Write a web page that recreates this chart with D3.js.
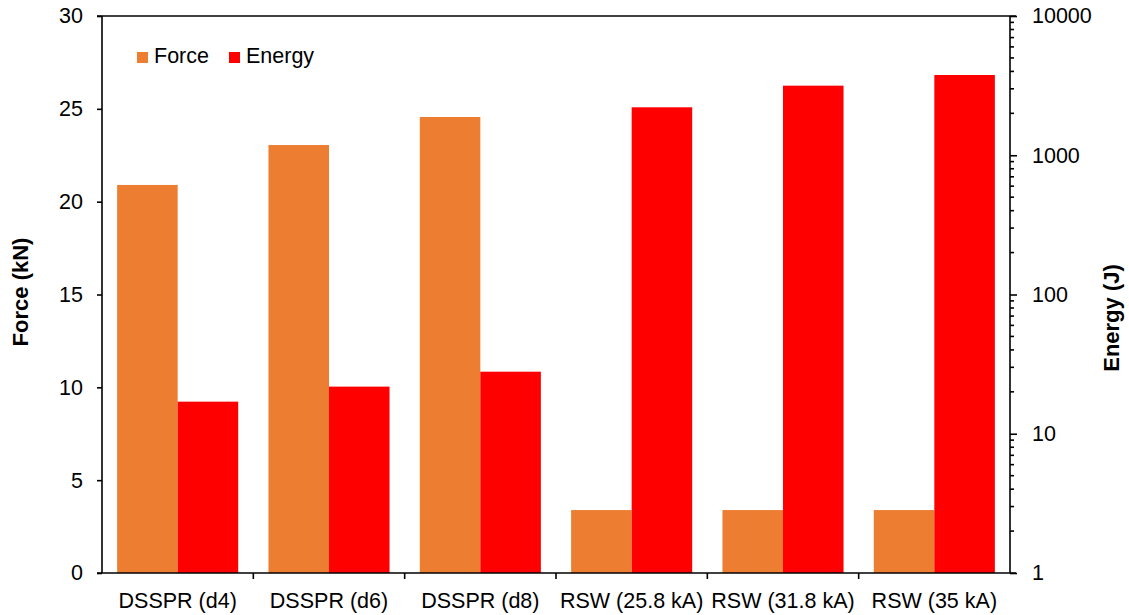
<!DOCTYPE html>
<html>
<head>
<meta charset="utf-8">
<script src="https://cdn.jsdelivr.net/npm/d3@7"></script>
<style>
  body { margin: 0; background: #fff; }
  text { font-family: "Liberation Sans", Arial, sans-serif; fill: #000; }
  .axis path, .axis line { stroke: #000; stroke-width: 1.6; }
  .axis text { font-size: 21.5px; }
</style>
</head>
<body>
<div id="main"></div>
<script>
var categories = ["DSSPR (d4)", "DSSPR (d6)", "DSSPR (d8)", "RSW (25.8 kA)", "RSW (31.8 kA)", "RSW (35 kA)"];
var force = [20.9, 23.05, 24.56, 3.39, 3.39, 3.39];     // kN
var energy = [17.0, 21.8, 27.9, 2210, 3160, 3770];      // J
var forceTicks = [0, 5, 10, 15, 20, 25, 30];
var energyTicks = [1, 10, 100, 1000, 10000];

var margin = {top: 16, right: 119, bottom: 42, left: 102},
    width = 1129 - margin.left - margin.right,
    height = 615 - margin.top - margin.bottom;

var translate = function(x, y) { return "translate(" + x + "," + y + ")"; };

var svg = d3.select("#main").append("svg")
    .attr("width", 1129)
    .attr("height", 615)
  .append("g")
    .attr("transform", translate(margin.left, margin.top));

var x = d3.scaleBand()
    .domain(categories)
    .range([0, width])
    .paddingInner(0)
    .paddingOuter(0);

var inner = d3.scaleBand()
    .domain(["force", "energy"])
    .range([x.bandwidth() * 0.1, x.bandwidth() * 0.9]);

var yL = d3.scaleLinear().domain([0, 30]).range([height, 0]);
var yR = d3.scaleLog().domain([1, 10000]).range([height, 0]);

// bars
var groups = svg.selectAll(".group")
    .data(categories)
  .enter().append("g")
    .attr("class", "group")
    .attr("transform", function(d) { return translate(x(d), 0); });

groups.append("rect")
    .attr("x", inner("force"))
    .attr("width", inner.bandwidth())
    .attr("y", function(d, i) { return yL(force[i]); })
    .attr("height", function(d, i) { return height - yL(force[i]); })
    .attr("fill", "#ED7D31");

groups.append("rect")
    .attr("x", inner("energy"))
    .attr("width", inner.bandwidth())
    .attr("y", function(d, i) { return yR(energy[i]); })
    .attr("height", function(d, i) { return height - yR(energy[i]); })
    .attr("fill", "#FF0000");

// left axis
svg.append("g")
    .attr("class", "axis")
    .call(d3.axisLeft(yL).tickValues(forceTicks).tickSize(5).tickPadding(14).tickSizeOuter(0))
    .call(function(g) { g.select(".domain").remove(); });

svg.append("line")
    .attr("x1", 0).attr("x2", 0).attr("y1", 0).attr("y2", height)
    .attr("stroke", "#000").attr("stroke-width", 1.6);

// right axis, majors + minors
var minors = [];
for (var p = 0; p < 4; p++) {
  for (var m = 2; m <= 9; m++) minors.push(m * Math.pow(10, p));
}

var right = svg.append("g")
    .attr("class", "axis")
    .attr("transform", translate(width, 0));

right.call(d3.axisRight(yR).tickValues(energyTicks).tickFormat(d3.format("d")).tickSize(7).tickPadding(15).tickSizeOuter(0))
    .call(function(g) { g.select(".domain").remove(); });

right.selectAll(".minor")
    .data(minors)
  .enter().append("line")
    .attr("class", "minor")
    .attr("x1", 0).attr("x2", 4)
    .attr("y1", function(d) { return yR(d); })
    .attr("y2", function(d) { return yR(d); });

svg.append("line")
    .attr("x1", width).attr("x2", width).attr("y1", 0).attr("y2", height)
    .attr("stroke", "#000").attr("stroke-width", 1.6);

// top border
svg.append("line")
    .attr("x1", -5).attr("x2", width + 6).attr("y1", 0).attr("y2", 0)
    .attr("stroke", "#000").attr("stroke-width", 1.6);

// bottom axis with boundary ticks
var bottom = svg.append("g")
    .attr("class", "axis")
    .attr("transform", translate(0, height));

bottom.append("line")
    .attr("x1", -5).attr("x2", width + 6)
    .attr("stroke", "#000").attr("stroke-width", 1.6);

bottom.selectAll(".btick")
    .data(d3.range(1, categories.length))
  .enter().append("line")
    .attr("class", "btick")
    .attr("x1", function(d) { return x(categories[d]); })
    .attr("x2", function(d) { return x(categories[d]); })
    .attr("y1", 0).attr("y2", 6);

bottom.selectAll(".clabel")
    .data(categories)
  .enter().append("text")
    .attr("class", "clabel")
    .attr("x", function(d) { return x(d) + x.bandwidth() / 2; })
    .attr("y", 35)
    .attr("text-anchor", "middle")
    .style("font-size", "21.5px")
    .text(function(d) { return d; });

// axis titles
svg.append("text")
    .attr("transform", translate(-74, 276) + " rotate(-90)")
    .attr("text-anchor", "middle")
    .style("font-size", "22px")
    .style("font-weight", "bold")
    .text("Force (kN)");

svg.append("text")
    .attr("transform", translate(width + 109, 302) + " rotate(-90)")
    .attr("text-anchor", "middle")
    .style("font-size", "22px")
    .style("font-weight", "bold")
    .text("Energy (J)");

// legend
var legend = [{name: "Force", color: "#ED7D31", x: 35}, {name: "Energy", color: "#FF0000", x: 127}];
var lg = svg.selectAll(".legend")
    .data(legend)
  .enter().append("g")
    .attr("class", "legend")
    .attr("transform", function(d) { return translate(d.x, 36); });

lg.append("rect")
    .attr("width", 11).attr("height", 11)
    .attr("fill", function(d) { return d.color; });

lg.append("text")
    .attr("x", 17).attr("y", 11)
    .style("font-size", "21.5px")
    .text(function(d) { return d.name; });
</script>
</body>
</html>
